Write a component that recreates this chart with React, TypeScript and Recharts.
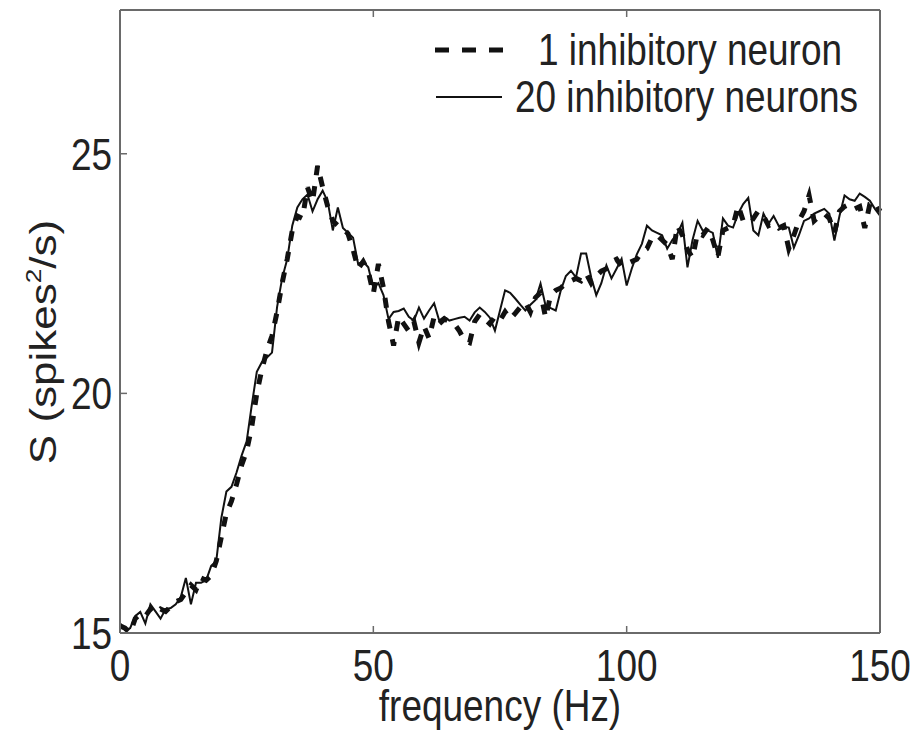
import React from 'react';
import { LineChart, Line, XAxis, YAxis } from 'recharts';

// spectrum, one value per Hz from 0 to 150
const freqStep = 1;

const oneNeuron = [
  15.15, 15.1, 15.0, 15.3, 15.4, 15.35, 15.5, 15.4, 15.5, 15.45,
  15.55, 15.65, 15.7, 15.85, 16.0, 15.9, 16.15, 16.1, 16.2, 16.5,
  17.0, 17.5, 17.75, 18.1, 18.5, 18.8, 19.3, 20.0, 20.5, 20.9,
  21.2, 21.7, 22.3, 22.8, 23.4, 23.7, 23.65, 24.3, 24.0, 24.75,
  24.3, 23.9, 23.6, 23.5, 23.45, 23.33, 23.0, 22.6, 22.75, 22.55,
  22.08, 22.7, 22.2, 21.5, 21.0, 21.6, 21.45, 21.3, 21.5, 21.06,
  21.4, 21.15, 21.6, 21.45, 21.55, 21.5, 21.45, 21.3, 21.1, 21.06,
  21.5, 21.65, 21.55, 21.45, 21.6, 21.52, 21.7, 21.55, 21.67, 21.8,
  21.9, 21.7, 22.0, 22.1, 21.58, 22.05, 22.15, 22.2, 22.3, 22.35,
  22.4, 22.35, 22.5, 22.3, 22.45, 22.55, 22.6, 22.75, 22.8, 22.65,
  22.7, 22.75, 22.8, 22.95, 23.02, 23.25, 23.3, 23.2, 23.1, 22.8,
  23.5, 23.3, 23.0, 22.83, 23.35, 23.3, 23.45, 23.2, 22.85, 23.4,
  23.45, 23.5, 23.92, 23.6, 23.7, 23.65, 23.81, 23.7, 23.5, 23.55,
  23.45, 23.5, 23.02, 23.3, 23.6, 23.8, 24.13, 23.6, 23.7, 23.75,
  23.65, 23.35, 23.8, 23.9, 23.95, 23.85, 23.9, 23.45, 23.95, 24.0,
  23.8,
];

const twentyNeurons = [
  15.2, 15.06, 15.1, 15.35, 15.44, 15.2, 15.6, 15.45, 15.3, 15.5,
  15.52, 15.6, 15.75, 16.15, 15.6, 16.05, 16.05, 16.1, 16.4, 16.5,
  17.4, 17.95, 18.05, 18.35, 18.7, 19.0, 19.75, 20.45, 20.65, 20.75,
  20.85, 21.8, 22.4, 22.8, 23.5, 23.88, 24.05, 24.15, 23.8, 24.05,
  24.23, 24.0, 23.4, 23.88, 23.45, 23.35, 23.25, 22.7, 22.75, 22.63,
  22.2, 22.3, 22.05, 21.55, 21.7, 21.72, 21.77, 21.6, 21.52, 21.79,
  21.56, 21.73, 21.88, 21.52, 21.6, 21.52, 21.55, 21.58, 21.6, 21.52,
  21.69, 21.79, 21.7, 21.58, 21.31, 21.73, 22.15, 22.1, 21.98, 21.85,
  21.73, 21.85, 21.95, 22.29, 21.83, 21.78, 21.73, 22.15, 22.45, 22.56,
  22.42, 22.92, 22.92, 22.42, 22.05, 22.3, 22.67, 22.4, 22.6, 22.81,
  22.25, 22.6, 22.9, 23.12, 23.5, 23.4, 23.35, 23.3, 23.02, 23.2,
  23.33, 23.56, 22.63, 23.2, 23.6, 23.4, 23.4, 23.35, 22.83, 23.65,
  23.5, 23.46, 23.75, 23.95, 24.08, 23.4, 23.3, 23.75, 23.54, 23.7,
  23.5, 23.48, 23.46, 23.04, 23.3, 23.6, 23.65, 23.75, 23.8, 23.85,
  23.75, 23.19, 23.7, 24.13, 24.05, 24.02, 24.17, 24.1, 24.02, 23.85,
  23.71,
];

const xTicks = [0, 50, 100, 150];
const yTicks = [15, 20, 25];
const seriesNames = ['1 inhibitory neuron', '20 inhibitory neurons'];

const data = oneNeuron.map((v, i) => ({ f: i * freqStep, one: v, twenty: twentyNeurons[i] }));

const FONT = '"Liberation Sans", Arial, sans-serif';
const AXIS = '#6a6a6a';
const SQUEEZE = 0.84;

const Txt = ({ x, y, anchor = 'start', size = 44, children }: any) => (
  <g transform={`translate(${x},${y}) scale(${SQUEEZE},1)`}>
    <text x={0} y={0} textAnchor={anchor} fontFamily={FONT} fontSize={size} fill="#222">
      {children}
    </text>
  </g>
);

const BottomTick = ({ x, y, payload }: any) => (
  <g>
    <line x1={x} x2={x} y1={y} y2={y - 7} stroke={AXIS} strokeWidth={1.5} />
    <Txt x={x} y={y + 48} anchor="middle">{payload.value}</Txt>
  </g>
);

const TopTick = ({ x, y }: any) => (
  <line x1={x} x2={x} y1={y} y2={y + 7} stroke={AXIS} strokeWidth={1.5} />
);

const LeftTick = ({ x, y, payload }: any) => (
  <g>
    <line x1={x} x2={x + 7} y1={y} y2={y} stroke={AXIS} strokeWidth={1.5} />
    <Txt x={x - 8} y={y + 16} anchor="end">{payload.value}</Txt>
  </g>
);

const RightTick = ({ x, y }: any) => (
  <line x1={x} x2={x - 7} y1={y} y2={y} stroke={AXIS} strokeWidth={1.5} />
);

const LegendBox = () => (
  <svg width={460} height={100} style={{ position: 'absolute', left: 430, top: 22 }}>
    <line x1={5} x2={75} y1={28} y2={28} stroke="#111" strokeWidth={5} strokeDasharray="14 13" />
    <Txt x={108} y={43}>{seriesNames[0]}</Txt>
    <line x1={6} x2={72} y1={75} y2={75} stroke="#111" strokeWidth={2} />
    <Txt x={85} y={90}>{seriesNames[1]}</Txt>
  </svg>
);

export default function App() {
  return (
    <div style={{ position: 'absolute', left: 0, top: 0, width: 919, height: 731, background: '#fff' }}>
      <LineChart width={919} height={731} data={data} margin={{ top: 9, right: 38, bottom: 0, left: 0 }}>
        <XAxis
          dataKey="f"
          type="number"
          domain={[0, 150]}
          ticks={xTicks}
          height={98}
          tickSize={0}
          tickMargin={0}
          tickLine={false}
          axisLine={{ stroke: AXIS, strokeWidth: 2 }}
          tick={<BottomTick />}
          interval={0}
          label={{
            content: () => <Txt x={500} y={721} anchor="middle">frequency (Hz)</Txt>,
          }}
        />
        <XAxis
          xAxisId="top"
          orientation="top"
          dataKey="f"
          type="number"
          domain={[0, 150]}
          ticks={xTicks.slice(1, 3)}
          height={1}
          tickSize={0}
          tickMargin={0}
          tickLine={false}
          axisLine={{ stroke: AXIS, strokeWidth: 2 }}
          tick={<TopTick />}
          interval={0}
        />
        <YAxis
          type="number"
          domain={[15, 28]}
          ticks={yTicks}
          width={120}
          tickSize={0}
          tickMargin={0}
          tickLine={false}
          axisLine={{ stroke: AXIS, strokeWidth: 2 }}
          tick={<LeftTick />}
          interval={0}
          label={{
            content: () => (
              <g transform="translate(56,342) rotate(-90) scale(1,0.84)">
                <text x={0} y={0} textAnchor="middle" fontFamily={FONT} fontSize={44} fill="#222">
                  S (spikes<tspan fontSize={26} dy={-18}>2</tspan><tspan dy={18}>/s)</tspan>
                </text>
              </g>
            ),
          }}
        />
        <YAxis
          yAxisId="right"
          orientation="right"
          type="number"
          domain={[15, 28]}
          ticks={yTicks.slice(1)}
          width={1}
          tickSize={0}
          tickMargin={0}
          tickLine={false}
          axisLine={{ stroke: AXIS, strokeWidth: 2 }}
          tick={<RightTick />}
          interval={0}
        />
        <Line
          type="linear"
          dataKey="one"
          name={seriesNames[0]}
          stroke="#111"
          strokeWidth={5}
          strokeDasharray="10 11"
          dot={false}
          isAnimationActive={false}
        />
        <Line
          type="linear"
          dataKey="twenty"
          name={seriesNames[1]}
          stroke="#111"
          strokeWidth={2}
          dot={false}
          isAnimationActive={false}
        />
      </LineChart>
      <LegendBox />
    </div>
  );
}
